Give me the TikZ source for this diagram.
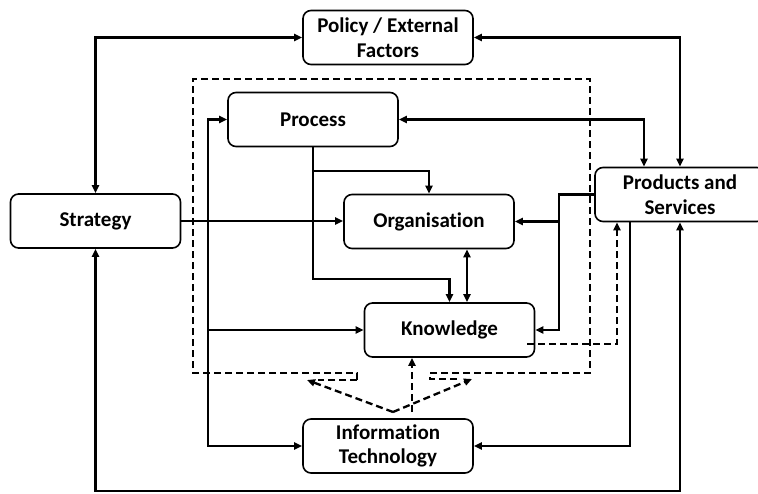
\documentclass[tikz,border=0pt]{standalone}
\usepackage{fontspec}
\setmainfont[Ligatures=NoCommon]{Carlito}
\usetikzlibrary{arrows.meta}
\begin{document}
\begin{tikzpicture}[x=1pt,y=-1pt,
  box/.style={draw,line width=1.6pt,rounded corners=8pt,inner sep=0pt,align=center,
    font=\fontsize{21}{24.5}\selectfont\bfseries,minimum width=170pt,minimum height=54pt},
  conn/.style={line width=2.3pt,>={Triangle[length=8pt,width=7pt]}},
  dconn/.style={conn,dash pattern=on 7pt off 4pt}]
\useasboundingbox (0,0) rectangle (758,493);
\node[box] (pol) at (388,37.5) {Policy / External\\Factors};
\node[box] (str) at (95.5,221) {Strategy};
\node[box] (pro) at (313,119.5) {Process};
\node[box] (org) at (429,221.5) {Organisation};
\node[box] (kno) at (449.5,330) {Knowledge};
\node[box] (it) at (388,446) {Information\\Technology};
\node[box] (ps) at (680,194.5) {Products and\\Services};
% helper coordinates
\coordinate (c1) at (644,0);
\coordinate (p1) at (313,279);
\coordinate (p2) at (313,171);
\coordinate (v) at (467,0);
\coordinate (b) at (208,0);
\coordinate (r) at (559,0);
\coordinate (q) at (630,0);
\coordinate (bt) at (0,491);
\coordinate (k1) at (527,344);
\coordinate (d) at (617,0);
\coordinate (apex) at (393,412);
\coordinate (va) at (412,412);
\coordinate (tl) at (307,380);
\coordinate (tr) at (472,379);
% dashed boundary
\draw[dconn] (357,380) -- (357,373) -- (193,373) -- (193,79) -- (590,79) -- (590,373) -- (430,373) -- (430,379) -- (460,379);
\draw[dconn] (357,380) -- (318,380);
% solid connectors
\draw[conn,<->] (str.north) |- (pol.west);
\draw[conn,<->] (pol.east) -| (ps.north);
\draw[conn,<->] (pro.east) -| (c1 |- ps.north);
\draw[conn,->] (str.east) -- (str.east -| org.west);
\draw[conn,->] (pro.south) -- (p1) -| (kno.north);
\draw[conn,->] (p2) -| (org.north);
\draw[conn,<->] (v |- org.south) -- (v |- kno.north);
\draw[conn,<->] (pro.west) -| (b |- it.west) -- (it.west);
\draw[conn,->] (b |- kno.west) -- (kno.west);
\draw[conn,->] (ps.west) -| (r |- kno.east) -- (kno.east);
\draw[conn,->] (r |- org.east) -- (org.east);
\draw[conn,->] (q |- ps.south) |- (it.east);
\draw[conn,<->] (ps.south) |- (bt -| str.south) -- (str.south);
% dashed connectors
\draw[dconn,->] (k1) -| (d |- ps.south);
\draw[dconn,->] (apex) -- (tl);
\draw[dconn,->] (apex) -- (tr);
\draw[dconn,->] (va) -- (va |- kno.south);
\end{tikzpicture}
\end{document}
